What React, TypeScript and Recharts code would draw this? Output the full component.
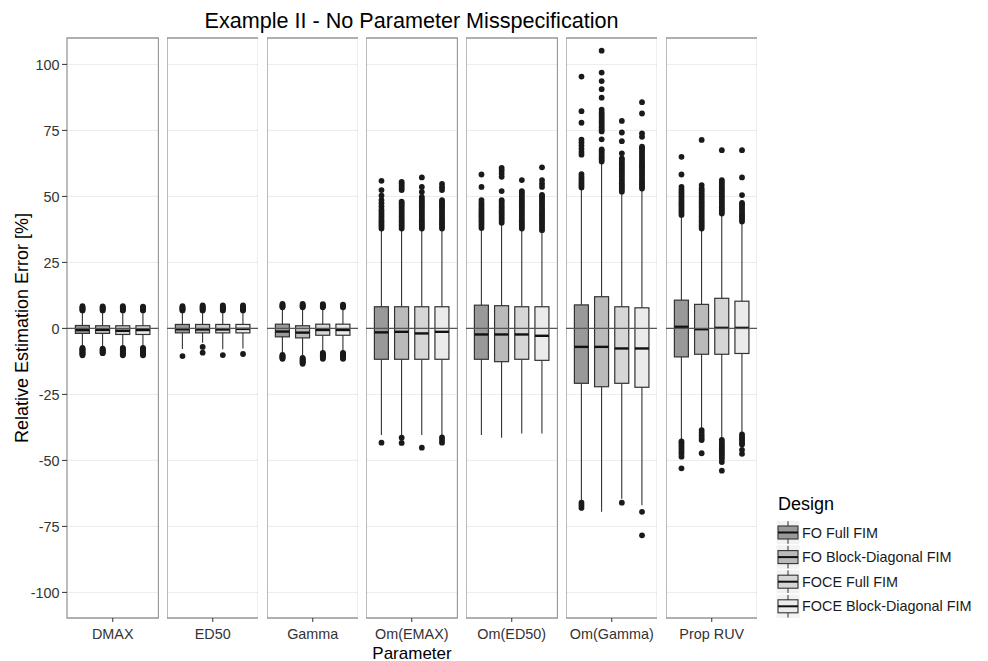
import React from "react"
import {
  ComposedChart,
  Bar,
  Scatter,
  XAxis,
  YAxis,
  CartesianGrid,
  ReferenceLine,
  ReferenceArea,
} from "recharts"

const parameters = ["DMAX", "ED50", "Gamma", "Om(EMAX)", "Om(ED50)", "Om(Gamma)", "Prop RUV"]
const designs = ["FO Full FIM", "FO Block-Diagonal FIM", "FOCE Full FIM", "FOCE Block-Diagonal FIM"]
const yTicks = [-100, -75, -50, -25, 0, 25, 50, 75, 100]

// [lower whisker, Q1, median, Q3, upper whisker] for each design
const dmaxBoxes = [
  [-7.0, -1.9, -0.6, 1.1, 6.3],
  [-7.0, -1.9, -0.5, 1.0, 6.2],
  [-7.0, -2.3, -0.9, 1.0, 6.3],
  [-7.0, -2.3, -0.6, 1.0, 6.2],
]
const ed50Boxes = [
  [-7.8, -1.7, -0.3, 1.5, 6.3],
  [-5.4, -1.7, -0.4, 1.5, 6.3],
  [-7.9, -1.7, -0.4, 1.5, 6.3],
  [-7.6, -1.7, -0.2, 1.5, 6.3],
]
const gammaBoxes = [
  [-9.5, -3.2, -1.2, 1.6, 7.6],
  [-10.7, -3.6, -1.6, 1.0, 7.6],
  [-8.8, -2.6, -0.6, 1.6, 7.6],
  [-8.8, -2.6, -0.6, 1.6, 7.6],
]
const omEmaxBoxes = [
  [-40.4, -11.7, -1.5, 8.2, 37.3],
  [-40.4, -11.7, -1.3, 8.2, 37.3],
  [-40.4, -11.7, -1.9, 8.2, 37.3],
  [-40.4, -11.7, -1.3, 8.2, 37.3],
]
const omEd50Boxes = [
  [-40.4, -11.7, -2.3, 8.8, 37.5],
  [-41.4, -12.6, -2.3, 8.6, 39.4],
  [-39.8, -11.7, -2.3, 8.2, 37.3],
  [-39.8, -12.1, -2.8, 8.2, 36.6],
]
const omGammaBoxes = [
  [-65.0, -20.8, -7.0, 8.9, 52.8],
  [-69.5, -22.1, -7.0, 12.0, 62.5],
  [-64.5, -20.8, -7.6, 8.2, 51.1],
  [-67.0, -22.3, -7.6, 7.8, 52.4],
]
const propRuvBoxes = [
  [-42.3, -10.8, 0.6, 10.7, 42.3],
  [-38.0, -9.8, -0.3, 9.1, 37.2],
  [-41.7, -9.8, 0.2, 11.4, 42.9],
  [-39.6, -9.5, 0.2, 10.3, 39.9],
]

const dmaxOutliers = [
  [6.8, 7.1, 7.4, 7.7, 8.0, 8.4, -7.4, -7.7, -8.0, -8.3, -8.6, -8.9, -9.2, -9.5, -9.8, -10.2],
  [6.8, 7.1, 7.4, 7.7, 8.0, 8.3, -7.7, -8.0, -8.3, -8.6, -8.9, -9.2, -9.4],
  [6.8, 7.1, 7.4, 7.7, 8.0, 8.4, -7.4, -7.7, -8.0, -8.3, -8.6, -8.9, -9.2, -9.5, -9.8, -10.2],
  [6.8, 7.1, 7.4, 7.7, 8.0, 8.2, -7.4, -7.7, -8.0, -8.3, -8.6, -8.9, -9.2, -9.5, -9.8, -10.2],
]
const ed50Outliers = [
  [6.8, 7.1, 7.4, 7.7, 8.0, 8.4, -10.5],
  [6.8, 7.1, 7.4, 7.7, 8.0, 8.3, 8.7, -7.0, -9.2],
  [6.8, 7.1, 7.4, 7.7, 8.0, 8.3, 8.7, -10.1],
  [6.8, 7.1, 7.4, 7.7, 8.0, 8.3, 8.7, -9.7],
]
const gammaOutliers = [
  [8.0, 8.3, 8.6, 8.9, 9.3, -10.0, -10.3, -10.6, -10.9, -11.2, -11.5],
  [8.0, 8.3, 8.6, 8.9, 9.3, -11.2, -11.5, -11.8, -12.1, -12.4, -12.7, -13.0, -13.4],
  [8.0, 8.3, 8.6, 8.9, 9.2, -9.3, -9.6, -9.9, -10.2, -10.5, -10.8, -11.1, -11.5],
  [8.0, 8.3, 8.6, 9.0, -9.3, -9.6, -9.9, -10.2, -10.5, -10.8, -11.1, -11.5],
]
const omEmaxOutliers = [
  [37.8, 38.6, 39.4, 40.2, 41.0, 41.8, 42.6, 43.4, 44.2, 45.0, 46.2, 47.4, 48.6, 50.3, 52.4, 55.9, -43.3],
  [37.8, 38.6, 39.4, 40.2, 41.0, 41.8, 42.6, 43.4, 44.2, 45.0, 45.8, 46.6, 47.4, 48.0, 52.4, 53.2, 54.0, 54.8, 55.5, -41.4, -43.4],
  [37.8, 38.6, 39.4, 40.2, 41.0, 41.8, 42.6, 43.4, 44.2, 45.0, 45.8, 46.6, 47.4, 48.2, 49.0, 49.8, 51.7, 53.6, 57.2, -45.2],
  [37.8, 38.6, 39.4, 40.2, 41.0, 41.8, 42.6, 43.4, 44.2, 45.0, 45.8, 46.6, 47.4, 48.0, 48.6, 52.4, 53.5, 54.7, -41.3, -42.3, -43.3],
]
const omEd50Outliers = [
  [38.0, 38.8, 39.6, 40.4, 41.2, 42.0, 42.8, 43.6, 44.4, 45.2, 46.0, 46.8, 47.6, 48.6, 53.6, 58.3],
  [40.0, 40.8, 41.6, 42.4, 43.2, 44.0, 44.8, 45.6, 46.4, 47.2, 48.0, 48.6, 52.0, 57.4, 58.6, 59.8, 60.8],
  [37.8, 38.6, 39.4, 40.2, 41.0, 41.8, 42.6, 43.4, 44.2, 45.0, 45.8, 46.6, 47.4, 48.2, 49.0, 49.8, 50.6, 51.4, 52.0, 56.2],
  [37.2, 38.0, 38.8, 39.6, 40.4, 41.2, 42.0, 42.8, 43.6, 44.4, 45.2, 46.0, 46.8, 47.6, 48.4, 49.2, 50.0, 50.6, 53.6, 54.8, 56.2, 61.0],
]
const omGammaOutliers = [
  [53.4, 54.2, 55.0, 55.8, 56.6, 57.4, 58.4, 65.8, 66.8, 68.0, 69.2, 70.4, 71.5, 77.9, 82.3, 95.4, -66.0, -67.0, -68.0],
  [63.2, 64.0, 64.8, 65.6, 66.4, 67.2, 67.8, 71.6, 74.6, 75.4, 76.2, 77.0, 77.8, 78.6, 79.4, 80.2, 81.0, 81.8, 82.9, 87.4, 90.6, 93.7, 96.9, 105.2],
  [51.8, 52.6, 53.4, 54.2, 55.0, 55.8, 56.6, 57.4, 58.2, 59.0, 59.8, 60.6, 61.4, 62.2, 63.0, 63.8, 64.4, 66.3, 70.9, 74.2, 78.6, -66.0],
  [53.0, 53.8, 54.6, 55.4, 56.2, 57.0, 57.8, 58.6, 59.4, 60.2, 61.0, 61.8, 62.6, 63.4, 64.2, 65.0, 65.8, 66.6, 67.4, 68.2, 68.8, 72.6, 73.9, 81.4, 85.7, -69.5, -78.4],
]
const propRuvOutliers = [
  [43.0, 43.8, 44.6, 45.4, 46.2, 47.0, 47.8, 48.6, 49.4, 50.2, 51.0, 51.8, 52.6, 53.6, 58.3, 65.0, -42.8, -43.6, -44.4, -45.2, -46.0, -46.8, -47.6, -48.6, -53.0],
  [37.8, 38.6, 39.4, 40.2, 41.0, 41.8, 42.6, 43.4, 44.2, 45.0, 45.8, 46.6, 47.4, 48.2, 49.0, 49.8, 50.6, 51.4, 52.2, 53.0, 54.3, 71.4, -38.5, -39.5, -40.5, -41.5, -42.3, -47.3],
  [43.5, 44.3, 45.1, 45.9, 46.7, 47.5, 48.3, 49.1, 49.9, 50.7, 51.5, 52.3, 53.1, 53.9, 54.7, 55.5, 56.2, 67.5, -42.2, -43.0, -43.8, -44.6, -45.4, -46.2, -47.0, -47.8, -48.6, -49.4, -50.6, -53.9],
  [40.5, 41.3, 42.1, 42.9, 43.7, 44.5, 45.3, 46.1, 46.9, 47.5, 50.5, 57.2, 67.5, -40.2, -41.0, -41.8, -42.6, -43.4, -44.0, -46.0, -47.5],
]

const boxStats = [dmaxBoxes, ed50Boxes, gammaBoxes, omEmaxBoxes, omEd50Boxes, omGammaBoxes, propRuvBoxes]
const outlierSets = [dmaxOutliers, ed50Outliers, gammaOutliers, omEmaxOutliers, omEd50Outliers, omGammaOutliers, propRuvOutliers]

const fills = ["#999999", "#bababa", "#d6d6d6", "#ebebeb"]

// page geometry
const W = 988
const H = 661
const PANEL_TOP = 38
const PANEL_BOTTOM = 618
const PANEL_LEFT = 67
const PANEL_W = 91.5
const PANEL_STEP = 99.75
const Y_AXIS_W = 67
const Y_DOMAIN: [number, number] = [-109.7, 110]
const FONT = "'Liberation Sans', Arial, Helvetica, sans-serif"

// bar spans lower..upper whisker; box and median placed on the same scale
const BoxShape = (props: any) => {
  const { x, y, width, height, payload } = props
  if (!payload || !height) return null
  const { lo, q1, med, q3, hi, fill } = payload
  const k = height / (hi - lo)
  const py = (v: number) => y + (hi - v) * k
  const cx = x + width / 2
  return (
    <g>
      <line x1={cx} x2={cx} y1={py(hi)} y2={py(lo)} stroke="#333" strokeWidth={1.1} />
      <rect x={x} y={py(q3)} width={width} height={py(q1) - py(q3)} fill={fill} stroke="#333" strokeWidth={1.2} />
      <line x1={x} x2={x + width} y1={py(med)} y2={py(med)} stroke="#111" strokeWidth={2.4} />
    </g>
  )
}

const OutlierDot = (props: any) => {
  const { cx, cy } = props
  if (cx == null || cy == null) return null
  return <circle cx={cx} cy={cy} r={2.9} fill="#1a1a1a" />
}

function Facet({ index }: { index: number }) {
  const param = parameters[index]
  const data = designs.map((design, d) => {
    const [lo, q1, med, q3, hi] = boxStats[index][d]
    return { param, design, lo, q1, med, q3, hi, fill: fills[d] }
  })
  const points = designs.flatMap((design, d) =>
    outlierSets[index][d].map((value) => ({ design, value }))
  )
  const axisW = index === 0 ? Y_AXIS_W : 0
  return (
    <div style={{ position: "absolute", left: PANEL_LEFT + index * PANEL_STEP - axisW, top: 0 }}>
      <ComposedChart
        width={PANEL_W + axisW}
        height={H}
        data={data}
        margin={{ top: PANEL_TOP, right: 0, bottom: H - PANEL_BOTTOM - 30, left: 0 }}
      >
        <CartesianGrid xAxisId="facet" horizontal vertical={false} stroke="#ebebeb" />
        <XAxis
          dataKey="design"
          type="category"
          hide
          height={0}
          allowDuplicatedCategory={false}
          padding={{ left: 5.4, right: 5.4 }}
        />
        <XAxis
          xAxisId="facet"
          dataKey="param"
          type="category"
          allowDuplicatedCategory={false}
          height={30}
          axisLine={false}
          tickLine={{ stroke: "#333" }}
          tickSize={4}
          tickMargin={7}
          tick={{ fontSize: 14.4, fill: "#333", fontFamily: FONT }}
          interval={0}
        />
        <YAxis
          type="number"
          domain={Y_DOMAIN}
          allowDataOverflow
          ticks={yTicks}
          hide={index !== 0}
          width={Y_AXIS_W}
          axisLine={false}
          tickLine={{ stroke: "#333" }}
          tickSize={5}
          tickMargin={2.5}
          tick={{ fontSize: 14.4, fill: "#333", fontFamily: FONT }}
        />
        <Bar
          dataKey={(d: any) => [d.lo, d.hi]}
          barSize={14}
          shape={BoxShape}
          isAnimationActive={false}
        />
        <ReferenceLine xAxisId="facet" y={0} stroke="#555" strokeWidth={1.4} />
        <Scatter data={points} dataKey="value" shape={OutlierDot} isAnimationActive={false} />
        <ReferenceArea
          xAxisId="facet"
          y1={Y_DOMAIN[0]}
          y2={Y_DOMAIN[1]}
          fill="none"
          stroke="#999"
          strokeWidth={1.3}
        />
      </ComposedChart>
    </div>
  )
}

function DesignLegend() {
  const keyX = 776
  const firstCenter = 532.5
  const step = 24.6
  return (
    <g>
      <text x={778} y={510} fontSize={18} fill="#000">Design</text>
      {designs.map((name, i) => {
        const cy = firstCenter + i * step
        return (
          <g key={name}>
            <rect x={keyX} y={cy - step / 2} width={24} height={step} fill="#f2f2f2" stroke="#fff" strokeWidth={1} />
            <line x1={keyX + 12} x2={keyX + 12} y1={cy - step / 2 + 1} y2={cy + step / 2 - 1} stroke="#333" strokeWidth={1} />
            <rect x={keyX + 2} y={cy - 6.5} width={20} height={13} fill={fills[i]} stroke="#333" strokeWidth={1.1} />
            <line x1={keyX + 2} x2={keyX + 22} y1={cy} y2={cy} stroke="#111" strokeWidth={2} />
            <text x={802} y={cy + 5} fontSize={14.4} fill="#1a1a1a">{name}</text>
          </g>
        )
      })}
    </g>
  )
}

export default function App() {
  return (
    <div style={{ position: "absolute", left: 0, top: 0, width: W, height: H, background: "#fff", fontFamily: FONT }}>
      {parameters.map((p, i) => (
        <Facet key={p} index={i} />
      ))}
      <svg
        width={W}
        height={H}
        style={{ position: "absolute", left: 0, top: 0, pointerEvents: "none" }}
        fontFamily={FONT}
      >
        <text x={411.5} y={28} textAnchor="middle" fontSize={21.6} fill="#000">
          Example II - No Parameter Misspecification
        </text>
        <text x={412} y={658.5} textAnchor="middle" fontSize={17} fill="#000">
          Parameter
        </text>
        <text transform="translate(28,328) rotate(-90)" textAnchor="middle" fontSize={18} fill="#000">
          Relative Estimation Error [%]
        </text>
        <DesignLegend />
      </svg>
    </div>
  )
}
